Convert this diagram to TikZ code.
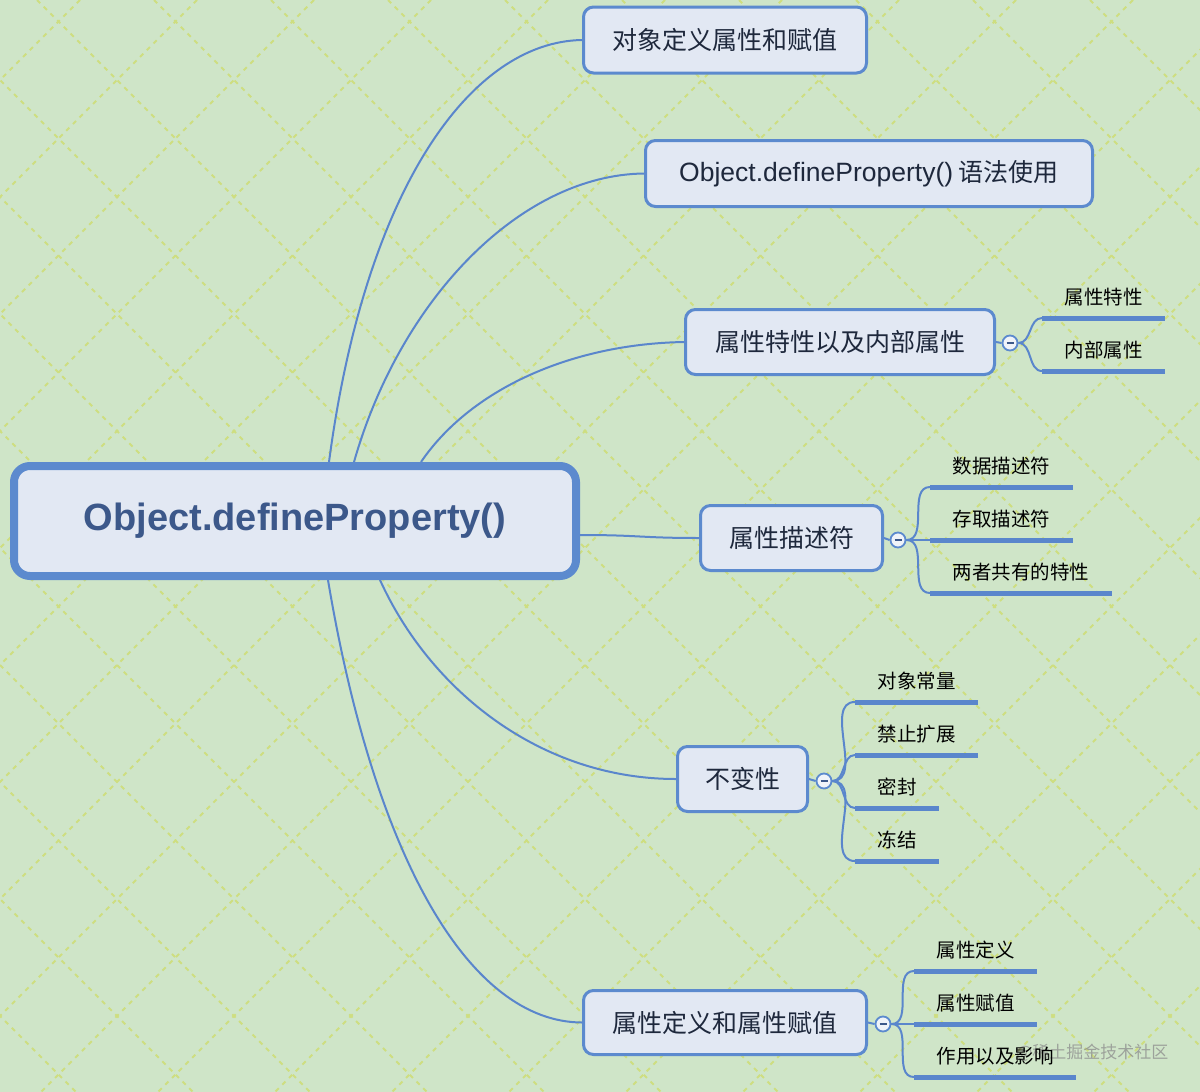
\documentclass[tikz,border=0pt]{standalone}
\usepackage{fontspec}
\setmainfont{Liberation Sans}
\newfontfamily\cjk{Noto Sans CJK SC}
\newfontfamily\lat{Liberation Sans}
\definecolor{bg}{RGB}{207,229,200}
\definecolor{pat}{RGB}{206,222,128}
\definecolor{bord}{RGB}{92,138,206}
\definecolor{boxfill}{RGB}{226,232,243}
\definecolor{rootText}{RGB}{60,88,138}
\definecolor{boxText}{RGB}{30,40,60}
\definecolor{linkc}{RGB}{90,134,204}
\pgfdeclarelayer{back}
\pgfsetlayers{back,main}
\tikzset{
 box/.style={draw=bord, line width=3pt, fill=boxfill, rounded corners=10pt, inner sep=0pt, text=boxText, font=\cjk\fontsize{25pt}{30pt}\selectfont},
 rootbox/.style={draw=bord, line width=8pt, fill=boxfill, rounded corners=16pt, minimum width=562pt, minimum height=110pt, inner sep=0pt, text=rootText, font=\bfseries\fontsize{38pt}{44pt}\selectfont},
 link/.style={draw=linkc, line width=2pt},
 knob/.style={circle, draw=bord, line width=1.8pt, fill=boxfill!50!white, minimum size=15pt, inner sep=0pt, path picture={\draw[line width=1.6pt, draw=rootText] ([xshift=-3.5pt]path picture bounding box.center) -- ([xshift=3.5pt]path picture bounding box.center);}},
 leaf/.style={anchor=south west, inner xsep=22.5pt, inner ysep=0pt, text height=18pt, text depth=13.5pt, font=\cjk\fontsize{19.5pt}{23pt}\selectfont, text=black},
 uline/.style={draw=linkc, line width=5pt},
 patline/.style={draw=pat, line width=1.8pt, dash pattern=on 4.5pt off 5pt},
}
\begin{document}
\begin{tikzpicture}[x=1pt,y=-1pt]
\useasboundingbox (0,0) rectangle (1200,1092);
\begin{pgfonlayer}{back}
\begin{scope}
\clip (0,0) rectangle (1200,1092);
\fill[bg] (0,0) rectangle (1200,1092);
\foreach \k in {-1,...,19} {
  \draw[patline] ({197+117*\k},0) -- ({197+117*\k-1200},1200);
}
\foreach \k in {-11,...,10} {
  \draw[patline] ({37+117*\k},0) -- ({37+117*\k+1200},1200);
}
\end{scope}
\end{pgfonlayer}

% watermark
\node[anchor=east, text=black!45, opacity=0.75, font=\cjk\fontsize{17pt}{20pt}\selectfont] (wm) at (1172,1053) {@稀土掘金技术社区};

% root
\node[rootbox] (root) at (295,521) {Object.defineProperty()};

% main topics
\node[box, minimum width=283pt, minimum height=66pt] (n1) at (725,40) {对象定义属性和赋值};
\node[box, minimum width=447pt, minimum height=66pt] (n2) at (869,173.5) {{\lat\fontsize{26.5pt}{30pt}\selectfont Object.defineProperty()} 语法使用};
\node[box, minimum width=309pt, minimum height=65pt] (n3) at (840,342) {属性特性以及内部属性};
\node[box, minimum width=182pt, minimum height=65pt] (n4) at (791.5,538) {属性描述符};
\node[box, minimum width=130pt, minimum height=65pt] (n5) at (742.5,779) {不变性};
\node[box, minimum width=283pt, minimum height=64pt] (n6) at (725,1022.5) {属性定义和属性赋值};

% knobs
\node[knob] (k3) at (1010,343) {};
\node[knob] (k4) at (898,540) {};
\node[knob] (k5) at (824,781) {};
\node[knob] (k6) at (883,1024) {};

% leaves
\node[leaf] (l31) at (1042,318) {属性特性};
\node[leaf] (l32) at (1042,371) {内部属性};
\node[leaf] (l41) at (930,487) {数据描述符};
\node[leaf] (l42) at (930,540) {存取描述符};
\node[leaf] (l43) at (930,593) {两者共有的特性};
\node[leaf] (l51) at (855,702) {对象常量};
\node[leaf] (l52) at (855,755) {禁止扩展};
\node[leaf] (l53) at (855,808) {密封};
\node[leaf] (l54) at (855,861) {冻结};
\node[leaf] (l61) at (914,971) {属性定义};
\node[leaf] (l62) at (914,1024) {属性赋值};
\node[leaf] (l63) at (914,1077) {作用以及影响};

\foreach \l in {l31,l32,l41,l42,l43,l51,l52,l53,l54,l61,l62,l63} {
  \draw[uline] (\l.south west) -- (\l.south east);
}

\begin{pgfonlayer}{back}
\draw[link] ([xshift=319pt]root.north west) .. controls (365,190) and (470,42) .. (n1.west);
\draw[link] ([xshift=344pt]root.north west) .. controls (400,300) and (520,175) .. (n2.west);
\draw[link] ([xshift=411pt]root.north west) .. controls (470,390) and (570,344) .. (n3.west);
\draw[link] ([yshift=-14pt]root.east) .. controls (640,535) and (640,538) .. (n4.west);
\draw[link] ([xshift=370pt]root.south west) .. controls (430,690) and (540,779) .. (n5.west);
\draw[link] ([xshift=318pt]root.south west) .. controls (375,860) and (470,1022) .. (n6.west);

\draw[link] (n3.east) -- (k3.west);
\draw[link] (n4.east) -- (k4.west);
\draw[link] (n5.east) -- (k5.west);
\draw[link] (n6.east) -- (k6.west);

\foreach \l in {l31,l32} { \draw[link] (k3.east) to[out=0,in=180] (\l.south west); }
\foreach \l in {l41,l42,l43} { \draw[link] (k4.east) to[out=0,in=180] (\l.south west); }
\foreach \l in {l51,l52,l53,l54} { \draw[link] (k5.east) to[out=0,in=180] (\l.south west); }
\foreach \l in {l61,l62,l63} { \draw[link] (k6.east) to[out=0,in=180] (\l.south west); }
\end{pgfonlayer}
\end{tikzpicture}
\end{document}
